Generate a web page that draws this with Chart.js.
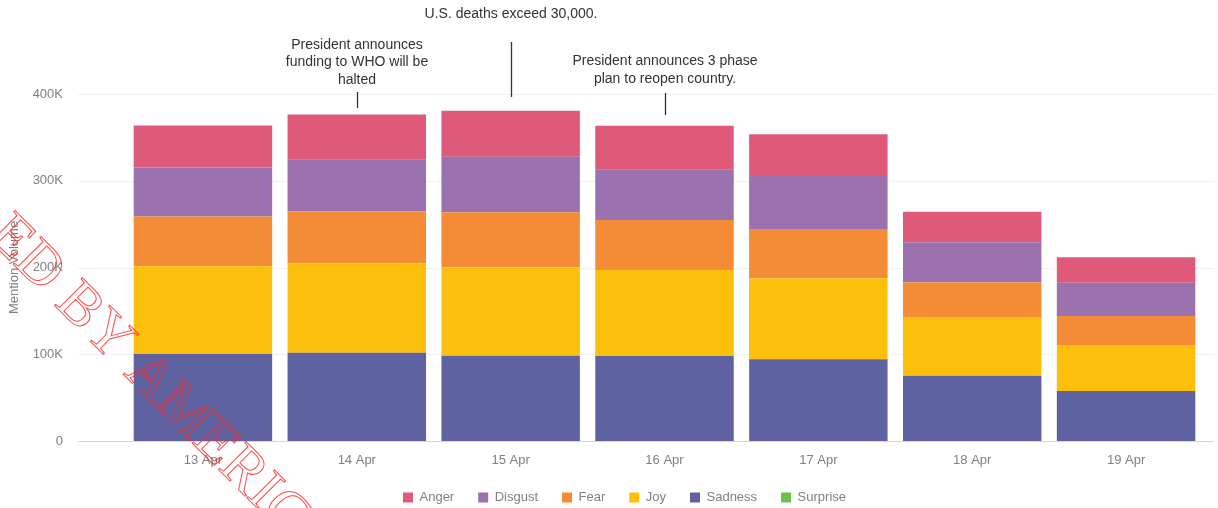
<!DOCTYPE html>
<html>
<head>
<meta charset="utf-8">
<script src="https://cdn.jsdelivr.net/npm/chart.js@4/dist/chart.umd.min.js"></script>
<style>
  html, body { margin: 0; padding: 0; background: #fff; }
  #wrap { width: 1218px; height: 508px; }
</style>
</head>
<body>
<div id="wrap"><canvas id="emotionChart"></canvas></div>
<script>
// categories and values
const categories = ['13 Apr', '14 Apr', '15 Apr', '16 Apr', '17 Apr', '18 Apr', '19 Apr'];
const anger    = [48500, 51500, 53000, 50000, 48000, 35300, 29300];
const disgust  = [56500, 60000, 64100, 58700, 61100, 46000, 38400];
const fear     = [57500, 60000, 63400, 57700, 56900, 40800, 33400];
const joy      = [101000, 103000, 101800, 99000, 93300, 66900, 53100];
const sadness  = [100300, 101800, 98400, 98000, 94200, 75300, 57600];
const surprise = [0, 0, 0, 0, 0, 0, 0];

const yTicks = [0, 100000, 200000, 300000, 400000];

// event notes, by category index
const noteIndex = [1, 2, 3];
const noteText = [
  ['President announces', 'funding to WHO will be', 'halted'],
  ['U.S. deaths exceed 30,000.'],
  ['President announces 3 phase', 'plan to reopen country.']
];
// pixel layout of the notes: first text line y, line step, tick top/bottom
const noteLayout = [
  { textY: 45, step: 17.5, lineTop: 92, lineBottom: 108 },
  { textY: 14, step: 17.5, lineTop: 42, lineBottom: 97 },
  { textY: 61, step: 18, lineTop: 93, lineBottom: 115 }
];

const FONT = '"Liberation Sans", Arial, sans-serif';

// legend box is much shorter than chart.js would make it,
// and sits a little right of centre
const legendFix = {
  id: 'legendFix',
  afterInit(chart) {
    const lg = chart.legend;
    const fit = lg.fit;
    lg.fit = function () {
      fit.call(this);
      this.height = 41;
    };
    const draw = lg.draw;
    lg.draw = function () {
      this.left += 46;
      draw.call(this);
      this.left -= 46;
    };
  }
};

// grid lines run out past the plot area on the left
const gridLines = {
  id: 'gridLines',
  beforeDatasetsDraw(chart) {
    const { ctx, scales: { y } } = chart;
    ctx.save();
    ctx.lineWidth = 1;
    yTicks.forEach(v => {
      const py = Math.round(y.getPixelForValue(v)) + 0.5;
      ctx.strokeStyle = v === 0 ? '#d6d6d6' : '#f0f0f0';
      ctx.beginPath();
      ctx.moveTo(78, py);
      ctx.lineTo(chart.width - 4, py);
      ctx.stroke();
    });
    ctx.restore();
  }
};

const notes = {
  id: 'notes',
  afterDraw(chart) {
    const { ctx, scales: { x } } = chart;
    ctx.save();
    ctx.font = '14px ' + FONT;
    ctx.fillStyle = '#333';
    ctx.textAlign = 'center';
    ctx.textBaseline = 'middle';
    noteIndex.forEach((idx, i) => {
      const px = Math.round(x.getPixelForValue(idx));
      const lay = noteLayout[i];
      noteText[i].forEach((line, j) => {
        ctx.fillText(line, px, lay.textY + j * lay.step);
      });
      ctx.strokeStyle = '#333';
      ctx.lineWidth = 1.3;
      ctx.beginPath();
      ctx.moveTo(px + 0.5, lay.lineTop);
      ctx.lineTo(px + 0.5, lay.lineBottom);
      ctx.stroke();
    });

    // red outline stamp across the lower left
    ctx.translate(-14, 237);
    ctx.rotate(Math.PI / 4);
    ctx.font = '60px "Liberation Serif", "Times New Roman", serif';
    ctx.textAlign = 'left';
    ctx.textBaseline = 'alphabetic';
    ctx.strokeStyle = 'rgba(255, 40, 40, 0.85)';
    ctx.lineWidth = 1;
    ctx.strokeText('ED BY AMERIC', 0, 0);
    ctx.restore();
  }
};

const ctx = document.getElementById('emotionChart').getContext('2d');
new Chart(ctx, {
  type: 'bar',
  data: {
    labels: categories,
    datasets: [
      { label: 'Surprise', data: surprise, backgroundColor: '#6cc04a' },
      { label: 'Sadness', data: sadness, backgroundColor: '#5f62a0' },
      { label: 'Joy', data: joy, backgroundColor: '#fbbf0c' },
      { label: 'Fear', data: fear, backgroundColor: '#f38b37' },
      { label: 'Disgust', data: disgust, backgroundColor: '#9b71b0' },
      { label: 'Anger', data: anger, backgroundColor: '#df5a78' }
    ]
  },
  options: {
    responsive: true,
    maintainAspectRatio: false,
    animation: false,
    layout: {
      padding: { top: 94, right: 15, bottom: 0, left: 0 }
    },
    datasets: {
      bar: { categoryPercentage: 0.9, barPercentage: 1.0 }
    },
    scales: {
      x: {
        stacked: true,
        grid: { display: false, drawTicks: false },
        border: { display: false },
        ticks: {
          padding: 12,
          color: '#808080',
          font: { family: FONT, size: 13 }
        },
        afterFit(scale) { scale.height = 26; }
      },
      y: {
        stacked: true,
        min: 0,
        max: 400000,
        grid: { display: false, drawTicks: false },
        border: { display: false },
        ticks: {
          stepSize: 100000,
          padding: 63,
          color: '#808080',
          font: { family: FONT, size: 13 },
          callback: v => v === 0 ? '0' : (v / 1000) + 'K'
        },
        title: {
          display: true,
          text: 'Mention Volume',
          color: '#808080',
          padding: { top: 7, bottom: 0 },
          font: { family: FONT, size: 13 }
        },
        afterFit(scale) {
          scale.width = 126;
          // the wide label gap should not push the plot up from the bottom
          scale.paddingTop = 8;
          scale.paddingBottom = 8;
        }
      }
    },
    plugins: {
      legend: {
        position: 'bottom',
        reverse: true,
        labels: {
          boxWidth: 10,
          boxHeight: 10,
          padding: 24,
          color: '#808080',
          font: { family: FONT, size: 13 }
        }
      },
      tooltip: { enabled: false }
    }
  },
  plugins: [legendFix, gridLines, notes]
});
</script>
</body>
</html>
